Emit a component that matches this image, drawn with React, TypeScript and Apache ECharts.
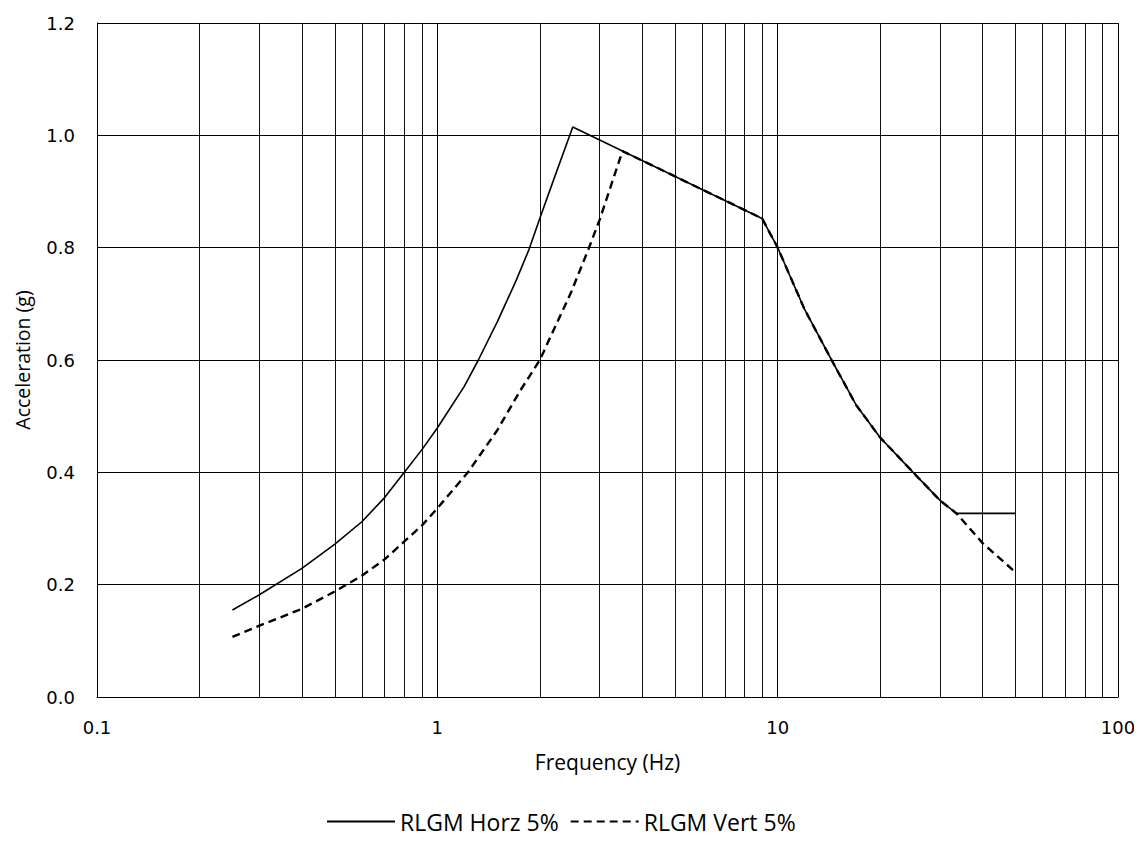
import React, { useEffect, useRef } from "react";
import * as echarts from "echarts";

const freqHorz = [0.25, 0.3, 0.4, 0.5, 0.6, 0.7, 0.8, 0.9, 1, 1.2, 1.32, 1.5, 1.7, 1.86, 2, 2.2, 2.5, 9, 10, 12, 14.4, 17, 20, 25, 30, 33.5, 50];
const accHorz = [0.155, 0.182, 0.229, 0.272, 0.312, 0.355, 0.4, 0.44, 0.479, 0.553, 0.6, 0.668, 0.74, 0.797, 0.852, 0.922, 1.015, 0.852, 0.8, 0.69, 0.6, 0.52, 0.462, 0.4, 0.35, 0.327, 0.327];

const freqVert = [0.25, 0.3, 0.4, 0.5, 0.6, 0.7, 0.8, 0.9, 1, 1.23, 1.5, 1.75, 2, 2.47, 2.77, 3, 3.5, 9, 10, 12, 14.4, 17, 20, 25, 30, 33.5, 40, 50];
const accVert = [0.107, 0.127, 0.157, 0.188, 0.216, 0.245, 0.277, 0.305, 0.336, 0.4, 0.475, 0.545, 0.6, 0.72, 0.795, 0.85, 0.972, 0.852, 0.8, 0.69, 0.6, 0.52, 0.462, 0.4, 0.35, 0.327, 0.274, 0.222];

const minorFreqs = [0.2, 0.3, 0.4, 0.5, 0.6, 0.7, 0.8, 0.9, 2, 3, 4, 5, 6, 7, 8, 9, 20, 30, 40, 50, 60, 70, 80, 90];

const seriesNames = ["RLGM Horz 5%", "RLGM Vert 5%"];
const xTitle = "Frequency (Hz)";
const yTitle = "Acceleration (g)";

export default function App() {
  const ref = useRef<HTMLDivElement>(null);
  useEffect(() => {
    if (!ref.current) return;
    const chart = echarts.init(ref.current, null, { renderer: "svg" });
    const tickFont = "DejaVu Sans";
    const titleFont = "Open Sans";
    chart.setOption({
      animation: false,
      backgroundColor: "#fff",
      grid: { left: 97, right: 24, top: 23, bottom: 151 },
      xAxis: {
        type: "log",
        logBase: 10,
        min: 0.1,
        max: 100,
        name: xTitle,
        nameLocation: "middle",
        nameGap: 54,
        nameTextStyle: { fontFamily: titleFont, fontSize: 21, color: "#000" },
        axisLine: { show: true, lineStyle: { color: "#000", width: 1 } },
        axisTick: { show: false },
        axisLabel: {
          fontFamily: tickFont,
          fontSize: 18,
          color: "#000",
          margin: 21,
          formatter: (v: number) => String(v),
        },
        splitLine: { show: true, lineStyle: { color: "#000", width: 1 } },
      },
      yAxis: {
        type: "value",
        min: 0,
        max: 1.2,
        interval: 0.2,
        name: yTitle,
        nameLocation: "middle",
        nameGap: 65,
        nameRotate: 90,
        nameTextStyle: { fontFamily: titleFont, fontSize: 19.5, color: "#000" },
        axisLine: { show: true, lineStyle: { color: "#000", width: 1 } },
        axisTick: { show: false },
        axisLabel: {
          fontFamily: tickFont,
          fontSize: 18,
          color: "#000",
          margin: 22,
          formatter: (v: number) => v.toFixed(1),
        },
        splitLine: { show: true, lineStyle: { color: "#000", width: 1 } },
      },
      legend: {
        bottom: 10,
        left: 321,
        itemWidth: 68,
        itemHeight: 14,
        itemGap: 11,
        itemStyle: { opacity: 0 },
        textStyle: { fontFamily: titleFont, fontSize: 23, color: "#000" },
        data: seriesNames,
      },
      series: [
        {
          name: seriesNames[0],
          type: "line",
          symbol: "none",
          data: freqHorz.map((f, i) => [f, accHorz[i]]),
          lineStyle: { color: "#000", width: 1.6, type: "solid" },
          itemStyle: { color: "#000" },
          z: 3,
          markLine: {
            silent: true,
            symbol: ["none", "none"],
            label: { show: false },
            lineStyle: { color: "#111", width: 1, type: "solid" },
            data: minorFreqs.map((f) => ({ xAxis: f })),
            z: 1,
          },
        },
        {
          name: seriesNames[1],
          type: "line",
          symbol: "none",
          data: freqVert.map((f, i) => [f, accVert[i]]),
          lineStyle: { color: "#000", width: 2.4, type: [8, 5] },
          itemStyle: { color: "#000" },
          z: 4,
        },
      ],
    });
    return () => chart.dispose();
  }, []);
  return <div ref={ref} style={{ width: 1142, height: 848, margin: -8 }} />;
}
